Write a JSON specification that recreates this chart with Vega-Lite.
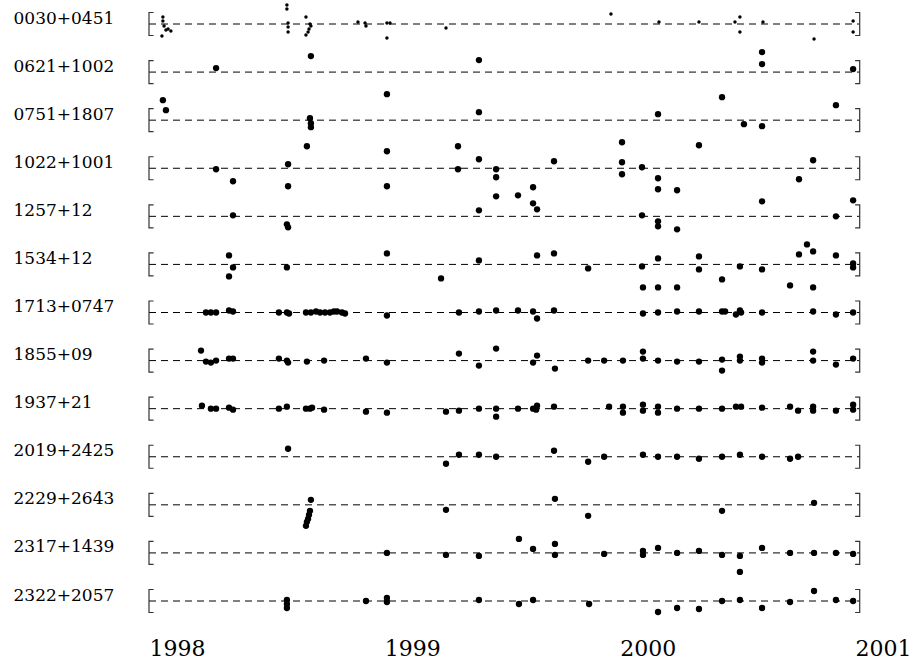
{
"$schema": "https://vega.github.io/schema/vega-lite/v6.json",
"width": 706, "height": 577,
"autosize": {"type": "none"},
"padding": {"left": 149, "top": 24, "right": 58, "bottom": 60},
"background": "white",
"config": {"view": {"stroke": null}, "axis": {"grid": false, "domain": false, "ticks": false, "tickSize": 0, "title": null, "labelFont": "DejaVu Serif", "labelColor": "#000"}},
"datasets": {
"span": [
{"p":"0030+0451","s":1998.0,"e":2001.02},{"p":"0621+1002","s":1998.0,"e":2001.02},{"p":"0751+1807","s":1998.0,"e":2001.02},{"p":"1022+1001","s":1998.0,"e":2001.02},{"p":"1257+12","s":1998.0,"e":2001.02},{"p":"1534+12","s":1998.0,"e":2001.02},{"p":"1713+0747","s":1998.0,"e":2001.02},{"p":"1855+09","s":1998.0,"e":2001.02},{"p":"1937+21","s":1998.0,"e":2001.02},{"p":"2019+2425","s":1998.0,"e":2001.02},{"p":"2229+2643","s":1998.0,"e":2001.02},{"p":"2317+1439","s":1998.0,"e":2001.02},{"p":"2322+2057","s":1998.0,"e":2001.02}
],
"toa": [
{"p":"0030+0451","t":1998.059,"r":7},{"p":"0030+0451","t":1998.059,"r":3},{"p":"0030+0451","t":1998.064,"r":-2},{"p":"0030+0451","t":1998.072,"r":-6},{"p":"0030+0451","t":1998.093,"r":-7},{"p":"0030+0451","t":1998.081,"r":-5},{"p":"0030+0451","t":1998.055,"r":-12},
{"p":"0030+0451","t":1998.586,"r":19},{"p":"0030+0451","t":1998.586,"r":15},{"p":"0030+0451","t":1998.591,"r":1},{"p":"0030+0451","t":1998.591,"r":-3},{"p":"0030+0451","t":1998.591,"r":-8},
{"p":"0030+0451","t":1998.667,"r":7},{"p":"0030+0451","t":1998.684,"r":0},{"p":"0030+0451","t":1998.688,"r":-2},{"p":"0030+0451","t":1998.680,"r":-5},{"p":"0030+0451","t":1998.676,"r":-8},{"p":"0030+0451","t":1998.667,"r":-11},
{"p":"0030+0451","t":1998.888,"r":2},{"p":"0030+0451","t":1998.918,"r":1},{"p":"0030+0451","t":1998.922,"r":-2},{"p":"0030+0451","t":1999.011,"r":1},{"p":"0030+0451","t":1999.024,"r":1},{"p":"0030+0451","t":1999.011,"r":-14},
{"p":"0030+0451","t":1999.262,"r":-4},{"p":"0030+0451","t":1999.963,"r":10},{"p":"0030+0451","t":2000.167,"r":2},{"p":"0030+0451","t":2000.337,"r":2},{"p":"0030+0451","t":2000.490,"r":2},{"p":"0030+0451","t":2000.511,"r":7},{"p":"0030+0451","t":2000.511,"r":-8},{"p":"0030+0451","t":2000.609,"r":2},{"p":"0030+0451","t":2000.826,"r":-15},{"p":"0030+0451","t":2000.992,"r":3},{"p":"0030+0451","t":2000.992,"r":-8},

{"p":"0621+1002","t":1998.285,"r":4},{"p":"0621+1002","t":1998.688,"r":16},{"p":"0621+1002","t":1999.402,"r":12},{"p":"0621+1002","t":2000.605,"r":20},{"p":"0621+1002","t":2000.605,"r":8},{"p":"0621+1002","t":2000.992,"r":3},

{"p":"0751+1807","t":1998.059,"r":20},{"p":"0751+1807","t":1998.072,"r":10},{"p":"0751+1807","t":1998.684,"r":2},{"p":"0751+1807","t":1998.688,"r":-3},{"p":"0751+1807","t":1998.688,"r":-7},{"p":"0751+1807","t":1999.011,"r":26},{"p":"0751+1807","t":1999.402,"r":8},{"p":"0751+1807","t":2000.163,"r":6},{"p":"0751+1807","t":2000.435,"r":23},{"p":"0751+1807","t":2000.528,"r":-4},{"p":"0751+1807","t":2000.605,"r":-6},{"p":"0751+1807","t":2000.919,"r":15},

{"p":"1022+1001","t":1998.285,"r":-1},{"p":"1022+1001","t":1998.357,"r":-13},{"p":"1022+1001","t":1998.591,"r":4},{"p":"1022+1001","t":1998.591,"r":-18},{"p":"1022+1001","t":1998.671,"r":22},{"p":"1022+1001","t":1999.011,"r":17},{"p":"1022+1001","t":1999.011,"r":-18},{"p":"1022+1001","t":1999.313,"r":22},{"p":"1022+1001","t":1999.313,"r":-1},{"p":"1022+1001","t":1999.402,"r":9},{"p":"1022+1001","t":1999.475,"r":-1},{"p":"1022+1001","t":1999.475,"r":-9},{"p":"1022+1001","t":1999.632,"r":-19},{"p":"1022+1001","t":1999.721,"r":7},{"p":"1022+1001","t":2000.010,"r":26},{"p":"1022+1001","t":2000.010,"r":6},{"p":"1022+1001","t":2000.010,"r":-6},{"p":"1022+1001","t":2000.095,"r":1},{"p":"1022+1001","t":2000.163,"r":-10},{"p":"1022+1001","t":2000.163,"r":-21},{"p":"1022+1001","t":2000.244,"r":-22},{"p":"1022+1001","t":2000.337,"r":23},{"p":"1022+1001","t":2000.762,"r":-11},{"p":"1022+1001","t":2000.822,"r":8},

{"p":"1257+12","t":1998.357,"r":1},{"p":"1257+12","t":1998.586,"r":-8},{"p":"1257+12","t":1998.591,"r":-11},{"p":"1257+12","t":1999.402,"r":6},{"p":"1257+12","t":1999.475,"r":20},{"p":"1257+12","t":1999.568,"r":21},{"p":"1257+12","t":1999.632,"r":13},{"p":"1257+12","t":1999.649,"r":7},{"p":"1257+12","t":2000.095,"r":1},{"p":"1257+12","t":2000.163,"r":-5},{"p":"1257+12","t":2000.163,"r":-10},{"p":"1257+12","t":2000.244,"r":-13},{"p":"1257+12","t":2000.605,"r":15},{"p":"1257+12","t":2000.919,"r":0},{"p":"1257+12","t":2000.992,"r":16},

{"p":"1534+12","t":1998.340,"r":9},{"p":"1534+12","t":1998.357,"r":-3},{"p":"1534+12","t":1998.340,"r":-12},{"p":"1534+12","t":1998.586,"r":-3},{"p":"1534+12","t":1999.011,"r":11},{"p":"1534+12","t":1999.241,"r":-14},{"p":"1534+12","t":1999.402,"r":4},{"p":"1534+12","t":1999.649,"r":9},{"p":"1534+12","t":1999.721,"r":11},{"p":"1534+12","t":1999.866,"r":-4},{"p":"1534+12","t":2000.095,"r":-2},{"p":"1534+12","t":2000.099,"r":-23},{"p":"1534+12","t":2000.163,"r":6},{"p":"1534+12","t":2000.163,"r":-23},{"p":"1534+12","t":2000.244,"r":-23},{"p":"1534+12","t":2000.337,"r":8},{"p":"1534+12","t":2000.337,"r":-5},{"p":"1534+12","t":2000.435,"r":-15},{"p":"1534+12","t":2000.511,"r":-2},{"p":"1534+12","t":2000.605,"r":-5},{"p":"1534+12","t":2000.724,"r":-21},{"p":"1534+12","t":2000.762,"r":10},{"p":"1534+12","t":2000.796,"r":20},{"p":"1534+12","t":2000.822,"r":13},{"p":"1534+12","t":2000.822,"r":-23},{"p":"1534+12","t":2000.919,"r":9},{"p":"1534+12","t":2000.992,"r":1},{"p":"1534+12","t":2000.992,"r":-3},

{"p":"1713+0747","t":1998.242,"r":0},{"p":"1713+0747","t":1998.263,"r":0},{"p":"1713+0747","t":1998.285,"r":0},{"p":"1713+0747","t":1998.340,"r":2},{"p":"1713+0747","t":1998.357,"r":1},{"p":"1713+0747","t":1998.552,"r":0},{"p":"1713+0747","t":1998.586,"r":0},{"p":"1713+0747","t":1998.595,"r":-1},{"p":"1713+0747","t":1998.667,"r":0},{"p":"1713+0747","t":1998.688,"r":0},{"p":"1713+0747","t":1998.710,"r":1},{"p":"1713+0747","t":1998.727,"r":0},{"p":"1713+0747","t":1998.748,"r":0},{"p":"1713+0747","t":1998.769,"r":0},{"p":"1713+0747","t":1998.786,"r":1},{"p":"1713+0747","t":1998.799,"r":1},{"p":"1713+0747","t":1998.820,"r":0},{"p":"1713+0747","t":1998.833,"r":-1},{"p":"1713+0747","t":1999.011,"r":-3},{"p":"1713+0747","t":1999.317,"r":0},{"p":"1713+0747","t":1999.402,"r":1},{"p":"1713+0747","t":1999.475,"r":2},{"p":"1713+0747","t":1999.568,"r":2},{"p":"1713+0747","t":1999.632,"r":1},{"p":"1713+0747","t":1999.649,"r":-6},{"p":"1713+0747","t":1999.721,"r":2},{"p":"1713+0747","t":2000.099,"r":-1},{"p":"1713+0747","t":2000.163,"r":0},{"p":"1713+0747","t":2000.244,"r":1},{"p":"1713+0747","t":2000.337,"r":1},{"p":"1713+0747","t":2000.435,"r":1},{"p":"1713+0747","t":2000.448,"r":1},{"p":"1713+0747","t":2000.494,"r":-2},{"p":"1713+0747","t":2000.511,"r":2},{"p":"1713+0747","t":2000.516,"r":0},{"p":"1713+0747","t":2000.605,"r":0},{"p":"1713+0747","t":2000.822,"r":1},{"p":"1713+0747","t":2000.919,"r":-2},{"p":"1713+0747","t":2000.992,"r":0},

{"p":"1855+09","t":1998.221,"r":10},{"p":"1855+09","t":1998.242,"r":-1},{"p":"1855+09","t":1998.263,"r":-2},{"p":"1855+09","t":1998.285,"r":0},{"p":"1855+09","t":1998.340,"r":2},{"p":"1855+09","t":1998.357,"r":2},{"p":"1855+09","t":1998.552,"r":2},{"p":"1855+09","t":1998.586,"r":0},{"p":"1855+09","t":1998.591,"r":-2},{"p":"1855+09","t":1998.671,"r":-1},{"p":"1855+09","t":1998.744,"r":0},{"p":"1855+09","t":1998.922,"r":2},{"p":"1855+09","t":1999.011,"r":-2},{"p":"1855+09","t":1999.317,"r":7},{"p":"1855+09","t":1999.402,"r":-5},{"p":"1855+09","t":1999.475,"r":12},{"p":"1855+09","t":1999.632,"r":-2},{"p":"1855+09","t":1999.649,"r":5},{"p":"1855+09","t":1999.725,"r":-8},{"p":"1855+09","t":1999.866,"r":0},{"p":"1855+09","t":1999.934,"r":0},{"p":"1855+09","t":2000.014,"r":0},{"p":"1855+09","t":2000.099,"r":9},{"p":"1855+09","t":2000.099,"r":2},{"p":"1855+09","t":2000.163,"r":0},{"p":"1855+09","t":2000.244,"r":-1},{"p":"1855+09","t":2000.337,"r":-1},{"p":"1855+09","t":2000.435,"r":1},{"p":"1855+09","t":2000.435,"r":-10},{"p":"1855+09","t":2000.511,"r":4},{"p":"1855+09","t":2000.511,"r":0},{"p":"1855+09","t":2000.605,"r":2},{"p":"1855+09","t":2000.605,"r":-2},{"p":"1855+09","t":2000.822,"r":9},{"p":"1855+09","t":2000.822,"r":0},{"p":"1855+09","t":2000.919,"r":-4},{"p":"1855+09","t":2000.992,"r":2},

{"p":"1937+21","t":1998.225,"r":3},{"p":"1937+21","t":1998.263,"r":0},{"p":"1937+21","t":1998.285,"r":0},{"p":"1937+21","t":1998.340,"r":1},{"p":"1937+21","t":1998.357,"r":-1},{"p":"1937+21","t":1998.552,"r":0},{"p":"1937+21","t":1998.586,"r":2},{"p":"1937+21","t":1998.667,"r":0},{"p":"1937+21","t":1998.684,"r":0},{"p":"1937+21","t":1998.693,"r":1},{"p":"1937+21","t":1998.744,"r":-1},{"p":"1937+21","t":1998.922,"r":-3},{"p":"1937+21","t":1999.011,"r":-4},{"p":"1937+21","t":1999.262,"r":-3},{"p":"1937+21","t":1999.317,"r":-2},{"p":"1937+21","t":1999.402,"r":0},{"p":"1937+21","t":1999.475,"r":0},{"p":"1937+21","t":1999.475,"r":-8},{"p":"1937+21","t":1999.568,"r":0},{"p":"1937+21","t":1999.632,"r":0},{"p":"1937+21","t":1999.649,"r":3},{"p":"1937+21","t":1999.645,"r":-1},{"p":"1937+21","t":1999.721,"r":2},{"p":"1937+21","t":1999.955,"r":2},{"p":"1937+21","t":2000.014,"r":2},{"p":"1937+21","t":2000.014,"r":-4},{"p":"1937+21","t":2000.099,"r":4},{"p":"1937+21","t":2000.099,"r":-2},{"p":"1937+21","t":2000.163,"r":2},{"p":"1937+21","t":2000.163,"r":-4},{"p":"1937+21","t":2000.244,"r":0},{"p":"1937+21","t":2000.337,"r":0},{"p":"1937+21","t":2000.435,"r":0},{"p":"1937+21","t":2000.494,"r":2},{"p":"1937+21","t":2000.516,"r":2},{"p":"1937+21","t":2000.605,"r":1},{"p":"1937+21","t":2000.724,"r":2},{"p":"1937+21","t":2000.758,"r":-2},{"p":"1937+21","t":2000.822,"r":2},{"p":"1937+21","t":2000.822,"r":-2},{"p":"1937+21","t":2000.919,"r":-2},{"p":"1937+21","t":2000.992,"r":4},{"p":"1937+21","t":2000.992,"r":-1},

{"p":"2019+2425","t":1998.591,"r":8},{"p":"2019+2425","t":1999.262,"r":-7},{"p":"2019+2425","t":1999.317,"r":2},{"p":"2019+2425","t":1999.402,"r":2},{"p":"2019+2425","t":1999.475,"r":0},{"p":"2019+2425","t":1999.721,"r":6},{"p":"2019+2425","t":1999.866,"r":-5},{"p":"2019+2425","t":1999.934,"r":0},{"p":"2019+2425","t":2000.099,"r":2},{"p":"2019+2425","t":2000.163,"r":0},{"p":"2019+2425","t":2000.244,"r":0},{"p":"2019+2425","t":2000.337,"r":-2},{"p":"2019+2425","t":2000.435,"r":0},{"p":"2019+2425","t":2000.511,"r":2},{"p":"2019+2425","t":2000.605,"r":0},{"p":"2019+2425","t":2000.724,"r":-2},{"p":"2019+2425","t":2000.758,"r":0},

{"p":"2229+2643","t":1998.688,"r":5},{"p":"2229+2643","t":1998.684,"r":-6},{"p":"2229+2643","t":1998.680,"r":-10},{"p":"2229+2643","t":1998.676,"r":-14},{"p":"2229+2643","t":1998.671,"r":-17},{"p":"2229+2643","t":1998.667,"r":-21},{"p":"2229+2643","t":1999.262,"r":-5},{"p":"2229+2643","t":1999.725,"r":6},{"p":"2229+2643","t":1999.866,"r":-11},{"p":"2229+2643","t":2000.435,"r":-6},{"p":"2229+2643","t":2000.826,"r":2},

{"p":"2317+1439","t":1999.011,"r":0},{"p":"2317+1439","t":1999.262,"r":-2},{"p":"2317+1439","t":1999.402,"r":-3},{"p":"2317+1439","t":1999.572,"r":14},{"p":"2317+1439","t":1999.632,"r":4},{"p":"2317+1439","t":1999.725,"r":9},{"p":"2317+1439","t":1999.725,"r":-2},{"p":"2317+1439","t":1999.934,"r":-1},{"p":"2317+1439","t":2000.099,"r":2},{"p":"2317+1439","t":2000.099,"r":-2},{"p":"2317+1439","t":2000.163,"r":5},{"p":"2317+1439","t":2000.244,"r":0},{"p":"2317+1439","t":2000.337,"r":2},{"p":"2317+1439","t":2000.435,"r":-2},{"p":"2317+1439","t":2000.511,"r":-3},{"p":"2317+1439","t":2000.511,"r":-19},{"p":"2317+1439","t":2000.605,"r":5},{"p":"2317+1439","t":2000.724,"r":0},{"p":"2317+1439","t":2000.826,"r":0},{"p":"2317+1439","t":2000.919,"r":0},{"p":"2317+1439","t":2000.992,"r":-1},

{"p":"2322+2057","t":1998.586,"r":1},{"p":"2322+2057","t":1998.586,"r":-3},{"p":"2322+2057","t":1998.586,"r":-7},{"p":"2322+2057","t":1998.922,"r":0},{"p":"2322+2057","t":1999.011,"r":3},{"p":"2322+2057","t":1999.011,"r":-1},{"p":"2322+2057","t":1999.402,"r":1},{"p":"2322+2057","t":1999.572,"r":-3},{"p":"2322+2057","t":1999.632,"r":1},{"p":"2322+2057","t":1999.870,"r":-3},{"p":"2322+2057","t":2000.163,"r":-11},{"p":"2322+2057","t":2000.244,"r":-7},{"p":"2322+2057","t":2000.337,"r":-8},{"p":"2322+2057","t":2000.435,"r":0},{"p":"2322+2057","t":2000.511,"r":1},{"p":"2322+2057","t":2000.605,"r":-7},{"p":"2322+2057","t":2000.724,"r":-1},{"p":"2322+2057","t":2000.826,"r":10},{"p":"2322+2057","t":2000.919,"r":1},{"p":"2322+2057","t":2000.992,"r":0}
]
},
"encoding": {
  "y": {"field": "p", "type": "nominal",
    "scale": {"type": "point", "padding": 0, "domain": ["0030+0451","0621+1002","0751+1807","1022+1001","1257+12","1534+12","1713+0747","1855+09","1937+21","2019+2425","2229+2643","2317+1439","2322+2057"]},
    "axis": {"labelAlign": "left", "labelPadding": 136, "labelBaseline": "alphabetic", "labelOffset": -1, "labelFontSize": 17, "labelOverlap": false}}
},
"layer": [
  {"data": {"name": "span"},
   "mark": {"type": "rule", "strokeDash": [7, 5], "color": "#000", "strokeWidth": 1},
   "encoding": {
     "x": {"field": "s", "type": "quantitative", "scale": {"domain": [1998, 2001], "nice": false, "zero": false},
       "axis": {"values": [1998, 1999, 2000, 2001], "format": "d", "labelAlign": "left", "labelBaseline": "alphabetic", "labelPadding": 54, "labelFontSize": 22, "labelFlush": false, "labelOverlap": false}},
     "x2": {"field": "e"}}},
  {"data": {"name": "span"},
   "mark": {"type": "point", "shape": "M0.4,-1L0,-1L0,1L0.4,1", "size": 529, "filled": false, "stroke": "#333", "strokeWidth": 1.2, "opacity": 1},
   "encoding": {"x": {"field": "s", "type": "quantitative"}}},
  {"data": {"name": "span"},
   "mark": {"type": "point", "shape": "M-0.4,-1L0,-1L0,1L-0.4,1", "size": 529, "filled": false, "stroke": "#333", "strokeWidth": 1.2, "opacity": 1},
   "encoding": {"x": {"field": "e", "type": "quantitative"}}},
  {"data": {"name": "toa"},
   "mark": {"type": "point", "shape": "circle", "filled": true, "color": "#000", "opacity": 1, "strokeWidth": 0},
   "encoding": {
     "x": {"field": "t", "type": "quantitative"},
     "yOffset": {"field": "r", "type": "quantitative", "scale": {"domain": [-30, 30], "range": [30, -30]}},
     "size": {"condition": {"test": "datum.p === '0030+0451'", "value": 12}, "value": 40}}}
]
}
